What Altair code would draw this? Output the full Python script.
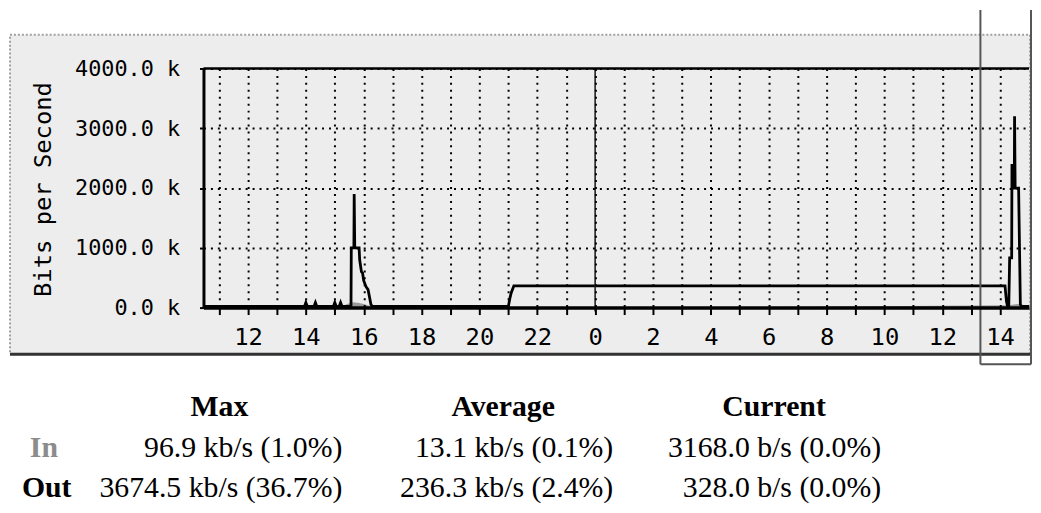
import altair as alt
import pandas as pd

# ---- data (hours; 24 = midnight, values in kb/s) ----
out_hours = [10.46, 13.95, 14.0, 14.05, 14.28, 14.33, 14.38, 14.95, 15.0, 15.05,
             15.15, 15.2, 15.25, 15.56, 15.57, 15.66, 15.67, 15.69, 15.84, 15.86,
             15.92, 15.96, 16.0, 16.08, 16.15, 16.25, 16.30, 21.00, 21.05, 21.10,
             21.19, 38.17, 38.22, 38.26, 38.30, 38.33, 38.40, 38.41, 38.43, 38.49,
             38.50, 38.52, 38.64, 38.70, 38.75, 39.0]
out_vals = [20, 20, 85, 20, 20, 85, 20, 20, 85, 20,
            20, 85, 20, 20, 1000, 1000, 1900, 1000, 1000, 800,
            600, 580, 450, 350, 300, 50, 20, 20, 150, 250,
            365, 365, 100, 20, 20, 830, 830, 2400, 2000, 2000,
            3200, 2000, 2000, 50, 20, 20]

in_hours = [10.46, 14.0, 15.2, 15.6, 15.8, 16.0, 16.3, 21.0, 30.0, 38.3, 38.6, 39.0]
in_vals = [12, 15, 20, 90, 80, 60, 15, 12, 12, 40, 60, 12]

tick_hours = list(range(11, 39))
y_ticks = [0, 1000, 2000, 3000, 4000]
midnight = [24]

headers = ["Max", "Average", "Current"]
row_names = ["In", "Out"]
in_stats = ["96.9 kb/s (1.0%)", "13.1 kb/s (0.1%)", "3168.0 b/s (0.0%)"]
out_stats = ["3674.5 kb/s (36.7%)", "236.3 kb/s (2.4%)", "328.0 b/s (0.0%)"]

df_out = pd.DataFrame({"h": out_hours, "v": out_vals})
df_in = pd.DataFrame({"h": in_hours, "v": in_vals})
df_mid = pd.DataFrame({"h": midnight})

W, H = 832, 241
MONO = "DejaVu Sans Mono"
SERIF = "Liberation Serif"

xs = alt.Scale(domain=[10.46, 39.0], nice=False, zero=False)
ys = alt.Scale(domain=[0, 4000], nice=False)

x_axis = alt.Axis(values=tick_hours,
                  labelExpr="(datum.value % 2 == 0) ? toString(datum.value % 24) : ''",
                  grid=True, gridDash=[2, 5], gridColor="#000", gridWidth=2,
                  domainColor="black", domainWidth=3.5, tickColor="black",
                  tickSize=7, tickWidth=2, labelFont=MONO, labelFontSize=24,
                  labelColor="black", labelPadding=11, labelOverlap=False,
                  labelFlush=False, title=None, zindex=1)
y_axis = alt.Axis(values=y_ticks,
                  labelExpr="format(datum.value, '.1f') + ' k'",
                  grid=True, gridDash=[2, 5], gridColor="#000", gridWidth=2,
                  domainColor="black", domainWidth=3, tickColor="black",
                  tickSize=4, tickWidth=2, labelFont=MONO, labelFontSize=22,
                  labelColor="black", labelPadding=20, title=None, zindex=1)

X = alt.X("h:Q", scale=xs, axis=x_axis)
Y = alt.Y("v:Q", scale=ys, axis=y_axis)

panel = alt.Chart(df_mid).mark_rect(fill="#ededed", stroke="#a0a0a0",
                                    strokeWidth=2, strokeDash=[2, 2]).encode(
    x=alt.value(-195), x2=alt.value(833), y=alt.value(-34), y2=alt.value(288))
panel_bottom = alt.Chart(df_mid).mark_rule(color="#333", strokeWidth=3).encode(
    x=alt.value(-195), x2=alt.value(833), y=alt.value(288))

in_area = alt.Chart(df_in).mark_area(color="#9a9a9a", opacity=1).encode(x=X, y=Y)
out_line = alt.Chart(df_out).mark_line(color="black", strokeWidth=2.8,
                                       strokeJoin="miter").encode(x=X, y=Y)

mid_rule = alt.Chart(df_mid).mark_rule(color="#222", strokeWidth=1.6).encode(
    x=X, y=alt.value(0), y2=alt.value(H + 4))
top_rule = alt.Chart(df_mid).mark_rule(color="black", strokeWidth=2.5).encode(
    x=alt.value(0), x2=alt.value(W), y=alt.value(0))

box_l = alt.Chart(df_mid).mark_rule(color="#555", strokeWidth=2).encode(
    x=alt.value(783), y=alt.value(-59), y2=alt.value(298))
box_r = alt.Chart(df_mid).mark_rule(color="#555", strokeWidth=2).encode(
    x=alt.value(834), y=alt.value(-59), y2=alt.value(298))
box_b = alt.Chart(df_mid).mark_rule(color="#555", strokeWidth=2).encode(
    x=alt.value(783), x2=alt.value(834), y=alt.value(298))

ytitle = alt.Chart(df_mid).mark_text(angle=270, font=MONO, fontSize=24,
                                     color="black", align="center",
                                     baseline="middle").encode(
    x=alt.value(-161), y=alt.value(122), text=alt.value("Bits per Second"))

texts = []
head_x = [221 - 205, 507 - 205, 780 - 205]
col_right = [345 - 205, 618 - 205, 888 - 205]
for hx, t in zip(head_x, headers):
    texts.append(alt.Chart(df_mid).mark_text(font=SERIF, fontSize=30, fontWeight="bold",
                                             color="black", align="center",
                                             baseline="alphabetic").encode(
        x=alt.value(hx), y=alt.value(417 - 67), text=alt.value(t)))
row_y = [459 - 67, 499 - 67]
row_x = [30 - 205, 22 - 205]
row_col = ["#8c8c8c", "black"]
for rx, ry, rc, name, stats in zip(row_x, row_y, row_col, row_names, [in_stats, out_stats]):
    texts.append(alt.Chart(df_mid).mark_text(font=SERIF, fontSize=30, fontWeight="bold",
                                             color=rc, align="left",
                                             baseline="alphabetic").encode(
        x=alt.value(rx), y=alt.value(ry), text=alt.value(name)))
    for cx, s in zip(col_right, stats):
        texts.append(alt.Chart(df_mid).mark_text(font=SERIF, fontSize=30,
                                                 color="black", align="right",
                                                 baseline="alphabetic").encode(
            x=alt.value(cx), y=alt.value(ry), text=alt.value(s)))

chart = alt.layer(panel, panel_bottom, in_area, out_line, mid_rule, top_rule,
                  box_l, box_r, box_b, ytitle, *texts).properties(
    width=W, height=H,
    autosize=alt.AutoSizeParams(type="none"),
    padding={"left": 197, "top": 59, "right": 4, "bottom": 197},
    background="white",
).configure_view(stroke=None)

chart.save("out.html", embed_options={"renderer": "svg", "actions": False})
